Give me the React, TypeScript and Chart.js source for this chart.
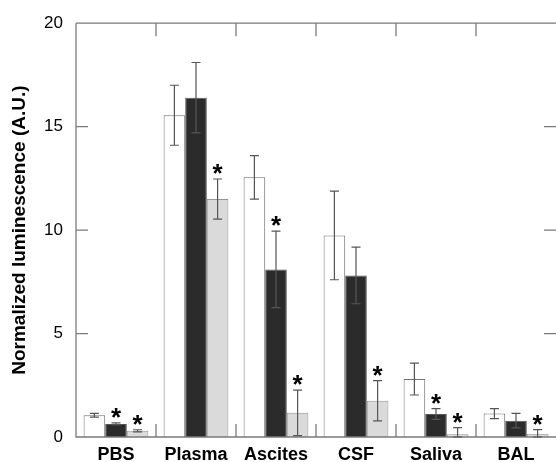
import React, { useEffect, useRef } from "react";
import { Chart, registerables } from "chart.js";

Chart.register(...registerables);

const categories = ["PBS", "Plasma", "Ascites", "CSF", "Saliva", "BAL"];
const whiteValues = [1.05, 15.55, 12.55, 9.74, 2.8, 1.13];
const whiteErrors = [0.09, 1.45, 1.05, 2.14, 0.77, 0.24];
const blackValues = [0.63, 16.4, 8.1, 7.81, 1.11, 0.79];
const blackErrors = [0.05, 1.7, 1.85, 1.37, 0.26, 0.35];
const grayValues = [0.3, 11.5, 1.17, 1.75, 0.13, 0.16];
const grayErrors = [0.05, 0.97, 1.1, 0.97, 0.32, 0.2];
const whiteStars = [false, false, false, false, false, false];
const blackStars = [true, false, true, false, true, false];
const grayStars = [true, true, true, true, true, true];
const yTicks = [0, 5, 10, 15, 20];

const errorsBySet = [whiteErrors, blackErrors, grayErrors];
const starsBySet = [whiteStars, blackStars, grayStars];

const FONT = "'Liberation Sans', Arial, Helvetica, sans-serif";
const FRAME = "#7a7a7a";

const overlayPlugin = {
  id: "overlay",
  afterDatasetsDraw(chart: any) {
    const ctx = chart.ctx;
    const y = chart.scales.y;
    const x = chart.scales.x;
    const { left, right, top, bottom } = chart.chartArea;
    ctx.save();
    // frame
    ctx.strokeStyle = FRAME;
    ctx.lineWidth = 1.3;
    ctx.beginPath();
    ctx.moveTo(left, top);
    ctx.lineTo(left, bottom);
    ctx.lineTo(right, bottom);
    ctx.moveTo(left, top);
    ctx.lineTo(right, top);
    ctx.stroke();
    // y ticks inside both sides
    ctx.beginPath();
    yTicks.forEach((v) => {
      const py = y.getPixelForValue(v);
      if (v !== 0 && v !== 20) {
        ctx.moveTo(left, py);
        ctx.lineTo(left + 12, py);
        ctx.moveTo(right, py);
        ctx.lineTo(right - 12, py);
      }
    });
    // category separators ticks
    for (let i = 0; i < categories.length - 1; i++) {
      const px = (x.getPixelForValue(i) + x.getPixelForValue(i + 1)) / 2;
      ctx.moveTo(px, top);
      ctx.lineTo(px, top + 13);
      ctx.moveTo(px, bottom);
      ctx.lineTo(px, bottom - 13);
    }
    ctx.stroke();

    // error bars and stars
    chart.data.datasets.forEach((ds: any, di: number) => {
      const meta = chart.getDatasetMeta(di);
      const errs = errorsBySet[di];
      const stars = starsBySet[di];
      meta.data.forEach((bar: any, i: number) => {
        const v = ds.data[i];
        const e = errs[i];
        const cx = bar.x;
        const yTop = y.getPixelForValue(v + e);
        const yBot = y.getPixelForValue(Math.max(0, v - e));
        ctx.strokeStyle = "#555555";
        ctx.lineWidth = 1.2;
        ctx.beginPath();
        ctx.moveTo(cx, yTop);
        ctx.lineTo(cx, yBot);
        ctx.moveTo(cx - 4.5, yTop);
        ctx.lineTo(cx + 4.5, yTop);
        ctx.moveTo(cx - 4.5, yBot);
        ctx.lineTo(cx + 4.5, yBot);
        ctx.stroke();
        if (stars[i]) {
          ctx.fillStyle = "#000000";
          ctx.font = `bold 26px ${FONT}`;
          ctx.textAlign = "center";
          ctx.textBaseline = "alphabetic";
          const m = ctx.measureText("*");
          const asc = m.actualBoundingBoxAscent;
          const desc = m.actualBoundingBoxDescent;
          const center = yTop - 10;
          const baseline = center - (desc - asc) / 2;
          ctx.fillText("*", cx, baseline);
        }
      });
    });
    ctx.restore();
  },
};

export default function App() {
  const ref = useRef<HTMLCanvasElement | null>(null);
  useEffect(() => {
    if (!ref.current) return;
    const chart = new Chart(ref.current, {
      type: "bar",
      data: {
        labels: categories,
        datasets: [
          {
            label: "white",
            data: whiteValues,
            backgroundColor: "#ffffff",
            borderColor: "#707070",
            borderWidth: 1,
          },
          {
            label: "black",
            data: blackValues,
            backgroundColor: "#2b2b2b",
            borderColor: "#555555",
            borderWidth: 1,
          },
          {
            label: "gray",
            data: grayValues,
            backgroundColor: "#dadada",
            borderColor: "#959595",
            borderWidth: 1,
          },
        ],
      },
      options: {
        responsive: false,
        animation: false,
        layout: { padding: { top: 23, right: 0, left: 0, bottom: 0 } },
        plugins: {
          legend: { display: false },
          tooltip: { enabled: false },
        },
        datasets: {
          bar: { categoryPercentage: 0.81, barPercentage: 1 },
        },
        scales: {
          x: {
            type: "category",
            offset: true,
            grid: { display: false, drawTicks: false },
            border: { display: false },
            ticks: {
              color: "#000000",
              font: { family: FONT, size: 18, weight: "bold" },
              padding: 7,
              maxRotation: 0,
              autoSkip: false,
            },
            afterFit: (s: any) => {
              s.height = 25;
            },
          },
          y: {
            min: 0,
            max: 20,
            grid: { display: false, drawTicks: false },
            border: { display: false },
            ticks: {
              stepSize: 5,
              color: "#000000",
              font: { family: FONT, size: 17 },
              padding: 13,
            },
            title: {
              display: true,
              text: "Normalized luminescence (A.U.)",
              color: "#000000",
              font: { family: FONT, size: 19, weight: "bold" },
              padding: { top: 8, bottom: 0 },
            },
            afterFit: (s: any) => {
              s.width = 76;
            },
          },
        },
      },
      plugins: [overlayPlugin],
    });
    return () => chart.destroy();
  }, []);
  return (
    <div style={{ position: "fixed", left: 0, top: 0, width: 556, height: 462, background: "#ffffff" }}>
      <canvas ref={ref} width={556} height={462} />
    </div>
  );
}
